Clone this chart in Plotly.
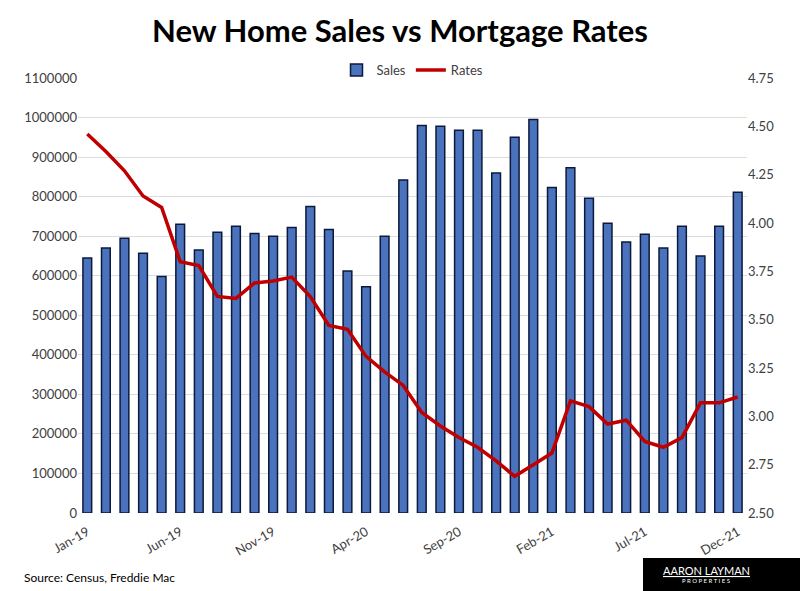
import plotly.graph_objects as go

months = ["Jan-19","Feb-19","Mar-19","Apr-19","May-19","Jun-19","Jul-19","Aug-19","Sep-19","Oct-19","Nov-19","Dec-19",
          "Jan-20","Feb-20","Mar-20","Apr-20","May-20","Jun-20","Jul-20","Aug-20","Sep-20","Oct-20","Nov-20","Dec-20",
          "Jan-21","Feb-21","Mar-21","Apr-21","May-21","Jun-21","Jul-21","Aug-21","Sep-21","Oct-21","Nov-21","Dec-21"]
sales = [645000, 670000, 695000, 657000, 598000, 730000, 665000, 710000, 725000, 707000, 700000, 722000,
         775000, 717000, 612000, 572000, 700000, 842000, 980000, 978000, 968000, 968000, 860000, 950000,
         995000, 823000, 873000, 796000, 733000, 685000, 705000, 670000, 725000, 650000, 725000, 811000]
rates = [4.46, 4.37, 4.27, 4.14, 4.08, 3.80, 3.78, 3.62, 3.61, 3.69, 3.70, 3.72,
         3.62, 3.47, 3.45, 3.31, 3.23, 3.16, 3.02, 2.95, 2.89, 2.84, 2.77, 2.69,
         2.75, 2.81, 3.08, 3.05, 2.96, 2.98, 2.87, 2.84, 2.89, 3.07, 3.07, 3.10]
tick_labels = ["Jan-19","Jun-19","Nov-19","Apr-20","Sep-20","Feb-21","Jul-21","Dec-21"]

font = "Lato, 'Open Sans', sans-serif"
fig = go.Figure()
fig.add_trace(go.Bar(x=months, y=sales, name="Sales", marker=dict(color="#4a72bd", line=dict(color="#0b1a3c", width=1.5)), width=0.47))
fig.add_trace(go.Scatter(x=months, y=rates, name="Rates", yaxis="y2", mode="lines",
                         line=dict(color="#c00000", width=3.5)))

fig.update_layout(
    width=800, height=591, paper_bgcolor="white", plot_bgcolor="white",
    margin=dict(l=78, r=53, t=78, b=78),
    title=dict(text="<b>New Home Sales vs Mortgage Rates</b>", x=0.5, xanchor="center", y=0.947, yanchor="middle",
               font=dict(family=font, size=31, color="black")),
    font=dict(family=font, size=13, color="#404040"),
    showlegend=True,
    legend=dict(orientation="h", x=0.5, xanchor="center", y=(513-70)/435, yanchor="middle",
                font=dict(size=13, color="#404040"), bgcolor="rgba(0,0,0,0)"),
    xaxis=dict(type="category", tickmode="array", tickvals=tick_labels, ticktext=tick_labels,
               tickangle=-30, showgrid=False, showline=False, ticks="", ticklabelstandoff=8,
               tickfont=dict(size=13, color="#404040")),
    yaxis=dict(range=[0, 1100000], dtick=100000, tickformat="d", showgrid=True, gridcolor="#dcdcdc",
               gridwidth=1, zeroline=False, showline=False, ticks="", tickfont=dict(size=13, color="#404040")),
    yaxis2=dict(range=[2.5, 4.75], dtick=0.25, tickformat=".2f", overlaying="y", side="right",
                showgrid=False, zeroline=False, showline=False, ticks="", tickfont=dict(size=13, color="#404040")),
    bargap=0.5,
)

fig.add_annotation(text="Source: Census, Freddie Mac", xref="paper", yref="paper", x=-0.083, y=-0.148,
                   xanchor="left", yanchor="middle", showarrow=False, font=dict(size=12, color="black", family=font))
fig.add_shape(type="rect", xref="paper", yref="paper", x0=(643-78)/669, x1=(800-78)/669, y0=(513-591)/435, y1=(513-558)/435,
              fillcolor="black", line=dict(width=0), layer="above")
fig.add_annotation(text="<u>AARON LAYMAN</u>", xref="paper", yref="paper", x=(706-78)/669, y=(513-570)/435,
                   xanchor="center", yanchor="middle", showarrow=False, font=dict(size=11, color="white", family=font))
fig.add_annotation(text="P R O P E R T I E S", xref="paper", yref="paper", x=(706-78)/669, y=(513-580)/435,
                   xanchor="center", yanchor="middle", showarrow=False, font=dict(size=6, color="white", family=font))

fig.write_html("out.html")
